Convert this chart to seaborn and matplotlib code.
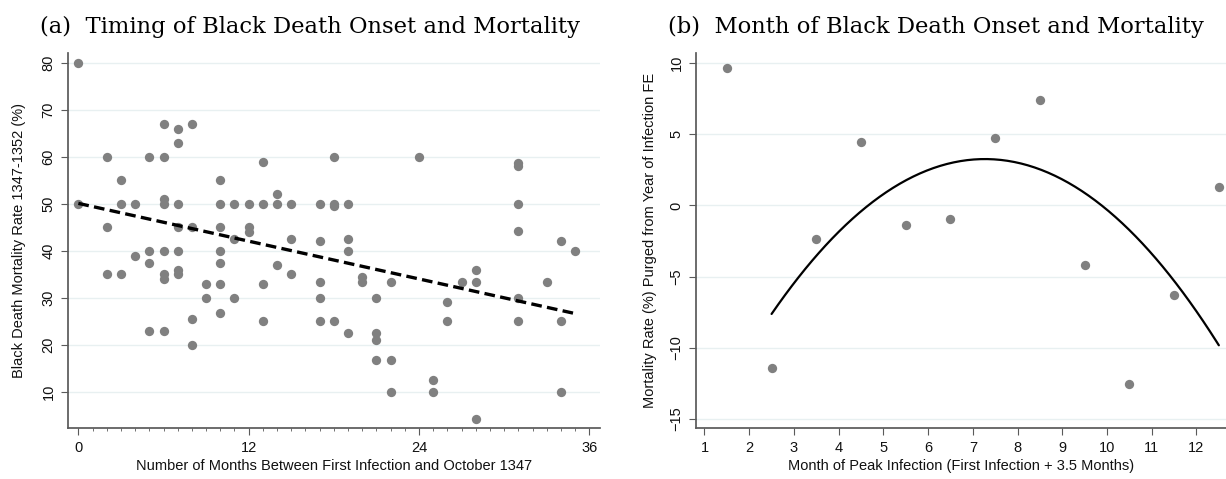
import numpy as np
import pandas as pd
import seaborn as sns
import matplotlib.pyplot as plt
from matplotlib.ticker import MultipleLocator

# panel (a): months since October 1347 vs. mortality rate (%)
months = [0, 0,
          2, 2, 2,
          3, 3, 3,
          4, 4,
          5, 5, 5, 5,
          6, 6, 6, 6, 6, 6, 6, 6,
          7, 7, 7, 7, 7, 7, 7,
          8, 8, 8, 8,
          9, 9,
          10, 10, 10, 10, 10, 10, 10,
          11, 11, 11,
          12, 12, 12,
          13, 13, 13, 13,
          14, 14, 14,
          15, 15, 15,
          17, 17, 17, 17, 17,
          18, 18, 18, 18,
          19, 19, 19, 19,
          20, 20,
          21, 21, 21, 21,
          22, 22, 22,
          24,
          25, 25,
          26, 26,
          27,
          28, 28, 28,
          31, 31, 31, 31, 31, 31,
          33,
          34, 34, 34,
          35]
mortality = [80, 50,
             60, 45, 35,
             55, 50, 35,
             50, 39,
             60, 40, 37.5, 23,
             67, 60, 51, 50, 40, 35, 34, 23,
             66, 63, 50, 45, 40, 36, 35,
             67, 45, 25.6, 20,
             33, 30,
             55, 50, 45, 40, 37.5, 33, 26.8,
             50, 42.5, 30,
             50, 45, 44,
             59, 50, 33, 25,
             52, 50, 37,
             50, 42.5, 35,
             50, 42, 33.4, 30, 25,
             60, 50, 49.5, 25,
             50, 42.5, 40, 22.5,
             34.4, 33.4,
             30, 22.5, 21, 16.7,
             33.4, 16.7, 10,
             60,
             12.6, 10,
             29.2, 25,
             33.4,
             36, 33.4, 4.2,
             58.7, 58, 50, 44.2, 30, 25,
             33.4,
             42, 25, 10,
             40]
# linear fit shown in the figure (a + b*x), drawn over the data range
lin_coef = [50.1, -0.67]
lin_range = [0, 35]

# panel (b): month of peak infection vs. purged mortality
peak_month = [1.5, 2.5, 3.5, 4.5, 5.5, 6.5, 7.5, 8.5, 9.5, 10.5, 11.5, 12.5]
purged_rate = [9.63, -11.41, -2.39, 4.47, -1.38, -0.98, 4.70, 7.40, -4.17, -12.57, -6.30, 1.29]
# quadratic fit shown in the figure (a + b*x + c*x^2)
quad_coef = [-22.01, 6.95, -0.478]
fit_range = [2.5, 12.5]

df_a = pd.DataFrame({'months': months, 'mortality': mortality})
df_b = pd.DataFrame({'month': peak_month, 'rate': purged_rate})
xl = np.array(lin_range, dtype=float)
df_lin = pd.DataFrame({'months': xl, 'mortality': lin_coef[0] + lin_coef[1] * xl})
xs = np.linspace(fit_range[0], fit_range[1], 200)
df_fit = pd.DataFrame({'month': xs, 'rate': quad_coef[0] + quad_coef[1] * xs + quad_coef[2] * xs ** 2})

sns.set_theme(style='white')
plt.rcParams['font.family'] = ['Liberation Sans', 'DejaVu Sans']
plt.rcParams['text.color'] = '#111111'
plt.rcParams['axes.labelcolor'] = '#111111'
plt.rcParams['xtick.color'] = '#111111'
plt.rcParams['ytick.color'] = '#111111'

W, H = 1226, 479
fig = plt.figure(figsize=(W / 100, H / 100), dpi=100)
ax1 = fig.add_axes([68 / W, 1 - 428 / H, (600 - 68) / W, (428 - 53) / H])
ax2 = fig.add_axes([696 / W, 1 - 428 / H, (1226 - 696) / W, (428 - 53) / H])

dot = '#808080'
grid = '#e8f0f1'
spine = '#5a5a5a'

# (a)
sns.scatterplot(data=df_a, x='months', y='mortality', ax=ax1, color=dot, s=45, linewidth=0, zorder=3)
sns.lineplot(data=df_lin, x='months', y='mortality', ax=ax1, color='black', lw=2.4,
             ls=(0, (3.2, 1.6)), zorder=4)
ax1.set_xlim(-0.73, 36.75)
ax1.set_ylim(2.3, 82.1)
ax1.set_xticks([0, 12, 24, 36])
ax1.xaxis.set_minor_locator(MultipleLocator(1))
ax1.set_yticks(range(10, 90, 10))
ax1.set_xlabel('Number of Months Between First Infection and October 1347', fontsize=10.5, labelpad=3)
ax1.set_ylabel('Black Death Mortality Rate 1347-1352 (%)', fontsize=10.5, labelpad=11)

# (b)
sns.scatterplot(data=df_b, x='month', y='rate', ax=ax2, color=dot, s=45, linewidth=0, zorder=3)
sns.lineplot(data=df_fit, x='month', y='rate', ax=ax2, color='black', lw=1.6)
ax2.set_xlim(0.81, 12.66)
ax2.set_ylim(-15.63, 10.7)
ax2.set_xticks(range(1, 13))
ax2.set_yticks([-15, -10, -5, 0, 5, 10])
ax2.set_xlabel('Month of Peak Infection (First Infection + 3.5 Months)', fontsize=10.5, labelpad=3)
ax2.set_ylabel('Mortality Rate (%) Purged from Year of Infection FE', fontsize=10.5, labelpad=9)

for ax in (ax1, ax2):
    sns.despine(ax=ax)
    ax.spines['left'].set_color(spine)
    ax.spines['bottom'].set_color(spine)
    ax.yaxis.grid(True, color=grid, lw=1)
    ax.set_axisbelow(True)
    ax.tick_params(axis='both', which='major', direction='out', length=5, width=0.8,
                   color=spine, labelsize=10.5, pad=4, bottom=True, left=True)
    ax.tick_params(axis='x', which='minor', direction='out', length=2.5, width=0.6,
                   color=spine, bottom=True)
    for lab in ax.get_yticklabels():
        lab.set_rotation(90)
        lab.set_va('center')

fig.text(310 / W, 1 - 27 / H, '(a)  Timing of Black Death Onset and Mortality',
         family='DejaVu Serif', fontsize=16.3, ha='center', va='center', color='black')
fig.text(936 / W, 1 - 27 / H, '(b)  Month of Black Death Onset and Mortality',
         family='DejaVu Serif', fontsize=16.3, ha='center', va='center', color='black')

fig.savefig('out.png', dpi=100)
